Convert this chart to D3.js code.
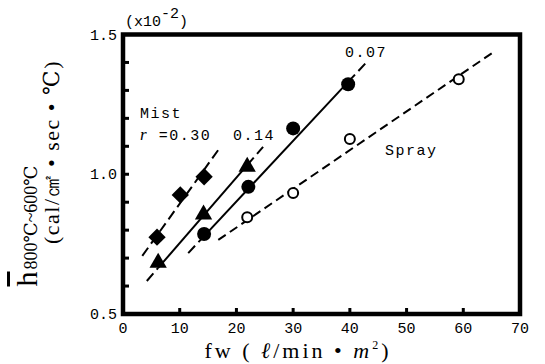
<!DOCTYPE html>
<html>
<head>
<meta charset="utf-8">
<script src="https://cdn.jsdelivr.net/npm/d3@7"></script>
<style>
  body { margin: 0; background: #fff; }
  svg { display: block; }
</style>
</head>
<body>
<svg id="chart" width="545" height="364"></svg>
<script>
// values
const xTicks = [10, 20, 30, 40, 50, 60];
const xTickLabels = ["0", "10", "20", "30", "40", "50", "60", "70"];
const yTicks = [0.6, 0.7, 0.8, 0.9, 1.0, 1.1, 1.2, 1.3, 1.4];
const yTickLabels = ["0.5", "1.0", "1.5"];

// Mist r = 0.30 (diamonds)
const fwMist30 = [6.0, 10.1, 14.3];
const hMist30 = [0.775, 0.926, 0.991];
const fitMist30 = [[3.4, 0.708], [16.8, 1.087]];

// Mist r = 0.14 (triangles)
const fwMist14 = [6.2, 14.2, 21.9];
const hMist14 = [0.687, 0.860, 1.030];
const fitMist14 = [[4.2, 0.618], [24.7, 1.098]];

// Mist r = 0.07 (filled circles)
const fwMist07 = [14.3, 22.1, 30.0, 39.7];
const hMist07 = [0.786, 0.955, 1.164, 1.322];
const fitMist07 = [[11.5, 0.718], [43.0, 1.402]];

// Spray (open circles)
const fwSpray = [21.9, 30.0, 40.0, 59.2];
const hSpray = [0.846, 0.933, 1.126, 1.340];
const fitSpray = [[16.8, 0.765], [65.1, 1.434]];

const MONO = "'Liberation Mono', 'DejaVu Sans Mono', monospace";
const SERIF = "'Liberation Serif', 'DejaVu Serif', serif";

const svg = d3.select("#chart");
const x = d3.scaleLinear().domain([0, 70]).range([123, 520]);
const y = d3.scaleLinear().domain([0.5, 1.5]).range([314, 34.5]);

// value on a fitted line at given fw
function onFit(fit, fw) {
    const [a, b] = fit;
    return a[1] + (b[1] - a[1]) * (fw - a[0]) / (b[0] - a[0]);
}

function drawLine(fit, dash) {
    svg.append("line")
        .attr("x1", x(fit[0][0])).attr("y1", y(fit[0][1]))
        .attr("x2", x(fit[1][0])).attr("y2", y(fit[1][1]))
        .attr("stroke", "#000")
        .attr("stroke-width", 2)
        .attr("stroke-dasharray", dash);
}

// solid between first and last marker, dashed outside
function drawMixedLine(fit, fws, dash) {
    const lo = d3.min(fws), hi = d3.max(fws);
    drawLine([fit[0], [lo, onFit(fit, lo)]], dash);
    drawLine([[lo, onFit(fit, lo)], [hi, onFit(fit, hi)]], null);
    drawLine([[hi, onFit(fit, hi)], fit[1]], dash);
}

drawLine(fitMist30, "10,5");
drawMixedLine(fitMist14, fwMist14, "10,5");
drawMixedLine(fitMist07, fwMist07, "10,5");
drawLine(fitSpray, "9,5");

// markers
svg.selectAll("path.diamond")
    .data(d3.zip(fwMist30, hMist30))
    .enter().append("path")
    .attr("class", "diamond")
    .attr("d", d3.symbol(d3.symbolSquare, 150))
    .attr("transform", d => `translate(${x(d[0])},${y(d[1])}) rotate(45)`)
    .attr("fill", "#000");

svg.selectAll("path.triangle")
    .data(d3.zip(fwMist14, hMist14))
    .enter().append("path")
    .attr("class", "triangle")
    .attr("d", d3.symbol(d3.symbolTriangle, 130))
    .attr("transform", d => `translate(${x(d[0])},${y(d[1]) + 1})`)
    .attr("fill", "#000");

svg.selectAll("circle.filled")
    .data(d3.zip(fwMist07, hMist07))
    .enter().append("circle")
    .attr("class", "filled")
    .attr("cx", d => x(d[0]))
    .attr("cy", d => y(d[1]))
    .attr("r", 7)
    .attr("fill", "#000");

svg.selectAll("circle.open")
    .data(d3.zip(fwSpray, hSpray))
    .enter().append("circle")
    .attr("class", "open")
    .attr("cx", d => x(d[0]))
    .attr("cy", d => y(d[1]))
    .attr("r", 5)
    .attr("fill", "#fff")
    .attr("stroke", "#000")
    .attr("stroke-width", 2);

// frame
svg.append("rect")
    .attr("x", x(0)).attr("y", y(1.5))
    .attr("width", x(70) - x(0))
    .attr("height", y(0.5) - y(1.5))
    .attr("fill", "none")
    .attr("stroke", "#000")
    .attr("stroke-width", 4.5);

// inward ticks
svg.selectAll("line.ytick")
    .data(yTicks)
    .enter().append("line")
    .attr("class", "ytick")
    .attr("x1", x(0)).attr("x2", x(0) + 6)
    .attr("y1", d => y(d)).attr("y2", d => y(d))
    .attr("stroke", "#000").attr("stroke-width", 3);

svg.selectAll("line.xtick")
    .data(xTicks)
    .enter().append("line")
    .attr("class", "xtick")
    .attr("x1", d => x(d)).attr("x2", d => x(d))
    .attr("y1", y(0.5)).attr("y2", y(0.5) - 6)
    .attr("stroke", "#000").attr("stroke-width", 3);

// tick labels
svg.selectAll("text.xlab")
    .data(xTickLabels)
    .enter().append("text")
    .attr("class", "xlab")
    .attr("font-family", MONO)
    .attr("x", d => x(+d))
    .attr("y", 333)
    .attr("text-anchor", "middle")
    .attr("font-size", 15)
    .text(d => d);

svg.selectAll("text.ylab")
    .data(yTickLabels)
    .enter().append("text")
    .attr("class", "ylab")
    .attr("font-family", MONO)
    .attr("x", x(0) - 6)
    .attr("y", d => y(+d) + 5)
    .attr("text-anchor", "end")
    .attr("font-size", 15)
    .text(d => d);

// multiplier
const mult = svg.append("text").attr("font-family", MONO)
    .attr("x", x(0) + 2).attr("y", 26).attr("font-size", 15);
mult.append("tspan").text("(x10");
mult.append("tspan").attr("dy", -8).text("-2");
mult.append("tspan").attr("dy", 8).text(")");

// annotations
function note(tx, ty, str) {
    return svg.append("text").attr("font-family", MONO)
        .attr("x", tx).attr("y", ty)
        .attr("font-size", 15)
        .attr("letter-spacing", 1.5)
        .text(str);
}
note(140, 118, "Mist");
const rLab = svg.append("text").attr("font-family", MONO)
    .attr("x", 140).attr("y", 140).attr("font-size", 15).attr("letter-spacing", 1.5);
rLab.append("tspan").attr("font-family", SERIF).attr("font-style", "italic")
    .attr("font-size", 17).text("r");
rLab.append("tspan").text(" =0.30");
note(233, 140, "0.14");
note(345, 57, "0.07");
note(385, 155, "Spray");

// x axis title
const xt = svg.append("text").attr("font-family", SERIF)
    .attr("x", 298).attr("y", 358)
    .attr("text-anchor", "middle")
    .attr("font-size", 22)
    .attr("letter-spacing", 3);
xt.append("tspan").text("fw  ( ");
xt.append("tspan").attr("font-style", "italic").text("ℓ");
xt.append("tspan").text("/min • ");
xt.append("tspan").attr("font-style", "italic").text("m");
xt.append("tspan").attr("font-size", 12).attr("dy", -9).text("2");
xt.append("tspan").attr("dy", 9).text(")");

// y axis title (two rotated lines)
const yt1 = svg.append("text").attr("font-family", SERIF)
    .attr("transform", "translate(37,226) rotate(-90)")
    .attr("text-anchor", "middle");
yt1.append("tspan").attr("font-size", 30)
    .attr("text-decoration", "overline").text("h");
yt1.append("tspan").attr("font-size", 18).attr("dx", 2).text("800℃~600℃");

svg.append("text").attr("font-family", SERIF)
    .attr("transform", "translate(59,152) rotate(-90)")
    .attr("text-anchor", "middle")
    .attr("font-size", 22)
    .attr("letter-spacing", 1.5)
    .text("(cal/㎠ • sec • ℃)");
</script>
</body>
</html>
